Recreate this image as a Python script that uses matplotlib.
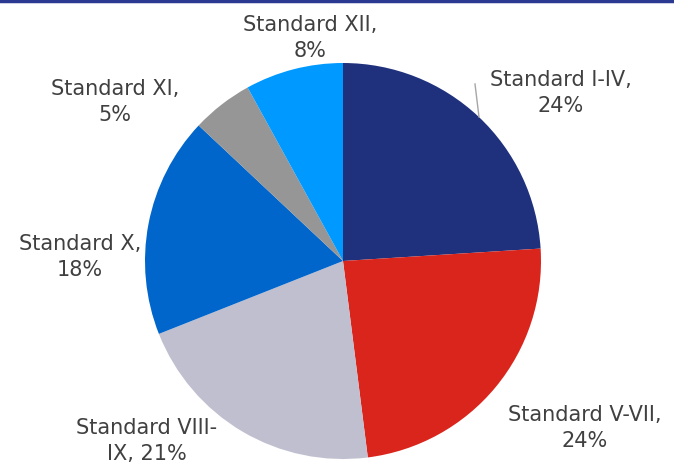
import matplotlib.pyplot as plt

labels = ["Standard I-IV,\n24%", "Standard V-VII,\n24%", "Standard VIII-\nIX, 21%",
          "Standard X,\n18%", "Standard XI,\n5%", "Standard XII,\n8%"]
shares = [24, 24, 21, 18, 5, 8]
colors = ["#1F317D", "#DA251D", "#BFBFD0", "#0066CC", "#969696", "#0099FF"]

# label centres in pixel coords (x, y from top)
label_pos = [(561, 93), (585, 428), (147, 441), (80, 257), (115, 102), (310, 38)]

fig = plt.figure(figsize=(6.74, 4.64), dpi=100)
ax = fig.add_axes([0, 0, 1, 1])

ax.pie(shares, colors=colors, startangle=90, counterclock=False,
       center=(343, -262), radius=198, frame=False,
       wedgeprops=dict(linewidth=0))
ax.set_ylim(-464, 0)
ax.set_xlim(0, 674)
ax.set_aspect("equal")
ax.axis("off")

for lab, (x, y) in zip(labels, label_pos):
    ax.text(x, -y, lab, ha="center", va="center", fontsize=15,
            color="#404040", linespacing=1.4)

ax.plot([475, 479], [-85, -118], color="#A6A6A6", lw=1)
fig.add_artist(plt.Line2D([0, 1], [0.995, 0.995], color="#2B3990", lw=2.5,
                          transform=fig.transFigure))

fig.savefig("out.png", dpi=100)
